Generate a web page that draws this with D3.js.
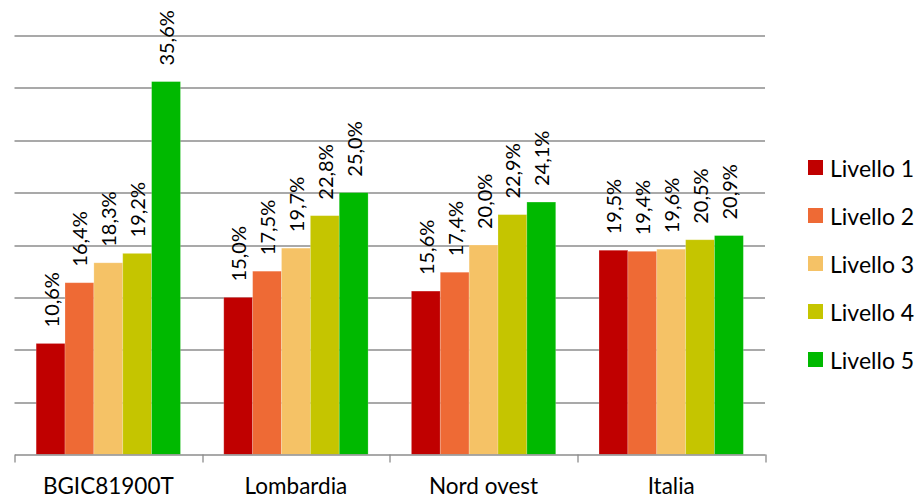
<!DOCTYPE html>
<html>
<head>
<meta charset="utf-8">
<script src="https://cdn.jsdelivr.net/npm/d3@7"></script>
<style>
	body { margin: 0; background: #fff; }
	svg text { font-family: Lato, 'Open Sans', sans-serif; fill: #000; }
</style>
</head>
<body>
<div id="my_dataviz"></div>
<script>
const categories = [ 'BGIC81900T', 'Lombardia', 'Nord ovest', 'Italia' ];
const seriesNames = [ 'Livello 1', 'Livello 2', 'Livello 3', 'Livello 4', 'Livello 5' ];
const livello1 = [ 10.6, 15.0, 15.6, 19.5 ];
const livello2 = [ 16.4, 17.5, 17.4, 19.4 ];
const livello3 = [ 18.3, 19.7, 20.0, 19.6 ];
const livello4 = [ 19.2, 22.8, 22.9, 20.5 ];
const livello5 = [ 35.6, 25.0, 24.1, 20.9 ];
const yTicks = [ 5, 10, 15, 20, 25, 30, 35, 40 ];
const seriesColors = [ '#c00000', '#ee6a35', '#f5c266', '#c5c500', '#00b900' ];

const seriesValues = [ livello1, livello2, livello3, livello4, livello5 ];

let dimensions = {
	width  : 919,
	height : 498,
	margin : {
		top    : 35.5,
		right  : 154,
		bottom : 43.5,
		left   : 14.5
	}
};
dimensions.boundedWidth = dimensions.width - dimensions.margin.left - dimensions.margin.right;
dimensions.boundedHeight = dimensions.height - dimensions.margin.top - dimensions.margin.bottom;

const svg = d3.select('#my_dataviz').append('svg').attr('width', dimensions.width).attr('height', dimensions.height);

const bounds = svg.append('g').attr('transform', `translate(${dimensions.margin.left}, ${dimensions.margin.top})`);

const x = d3.scaleBand().domain(categories).range([ 0, dimensions.boundedWidth ]).padding(0);
const xInner = d3
	.scaleBand()
	.domain(seriesNames)
	.range([ 0, x.bandwidth() ])
	.paddingInner(0)
	.paddingOuter(0.75);
const y = d3.scaleLinear().domain([ 0, 40 ]).range([ dimensions.boundedHeight, 0 ]);
const color = d3.scaleOrdinal().domain(seriesNames).range(seriesColors);

// gridlines
bounds
	.selectAll('.grid')
	.data(yTicks)
	.enter()
	.append('line')
	.attr('class', 'grid')
	.attr('x1', 0)
	.attr('x2', dimensions.boundedWidth)
	.attr('y1', (d) => Math.round(y(d)) + 0.5)
	.attr('y2', (d) => Math.round(y(d)) + 0.5)
	.attr('stroke', '#8c8c8c')
	.attr('stroke-width', 1.3);

// bars
const rows = [];
categories.forEach(function(c, ci) {
	seriesNames.forEach(function(s, si) {
		rows.push({ cat: c, series: s, value: seriesValues[si][ci] });
	});
});

const groups = bounds.append('g');

groups
	.selectAll('rect')
	.data(rows)
	.enter()
	.append('rect')
	.attr('x', (d) => x(d.cat) + xInner(d.series))
	.attr('width', xInner.bandwidth())
	.attr('y', (d) => y(d.value))
	.attr('height', (d) => y(0) - y(d.value))
	.attr('fill', (d) => color(d.series))
	.attr('stroke', 'rgba(255,255,255,0.25)')
	.attr('stroke-width', 0.8);

// value labels
const fmt = (v) => v.toFixed(1).replace('.', ',') + '%';
groups
	.selectAll('.val')
	.data(rows)
	.enter()
	.append('text')
	.attr('class', 'val')
	.attr('transform', function(d) {
		const cx = x(d.cat) + xInner(d.series) + xInner.bandwidth() / 2;
		return `translate(${cx}, ${y(d.value) - 16}) rotate(-90)`;
	})
	.attr('dominant-baseline', 'central')
	.attr('text-anchor', 'start')
	.attr('font-size', '20px')
	.text((d) => fmt(d.value));

// x axis
const xAxisGenerator = d3.axisBottom(x).tickSize(0).tickPadding(24);
const xAxis = bounds
	.append('g')
	.attr('transform', `translate(0, ${dimensions.boundedHeight})`)
	.call(xAxisGenerator)
	.attr('class', 'x axis');
xAxis.select('.domain').attr('stroke', '#8c8c8c').attr('stroke-width', 1.3);
xAxis.selectAll('text').attr('font-size', '22.5px').attr('font-family', 'Lato, sans-serif');

const boundaries = categories.map((c) => x(c)).concat([ x.range()[1] ]);
xAxis
	.selectAll('.sep')
	.data(boundaries)
	.enter()
	.append('line')
	.attr('class', 'sep')
	.attr('x1', (d) => Math.round(d) + 0.5)
	.attr('x2', (d) => Math.round(d) + 0.5)
	.attr('y1', 0)
	.attr('y2', 8)
	.attr('stroke', '#8c8c8c')
	.attr('stroke-width', 1.3);

// legend
const legend = svg.append('g').attr('transform', 'translate(808, 160)');
const items = legend
	.selectAll('g')
	.data(seriesNames)
	.enter()
	.append('g')
	.attr('transform', (d, i) => `translate(0, ${i * 48})`);
items.append('rect').attr('width', 15).attr('height', 15).attr('fill', (d) => color(d));
items
	.append('text')
	.attr('x', 22)
	.attr('y', 7.5)
	.attr('dominant-baseline', 'central')
	.attr('font-size', '23px')
	.text((d) => d);
</script>
</body>
</html>
